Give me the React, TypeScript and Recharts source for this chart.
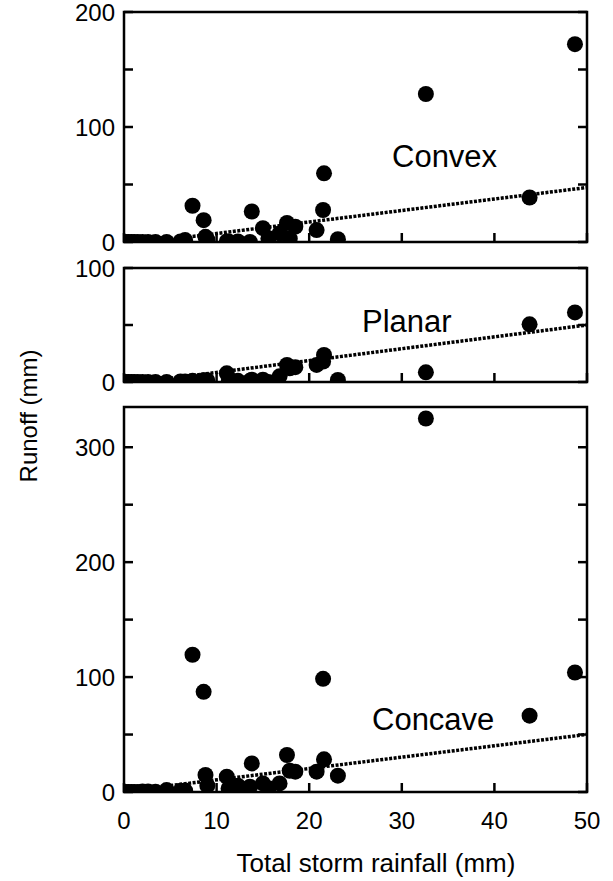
import { ComposedChart, Scatter, Line, XAxis, YAxis, ReferenceArea } from 'recharts';

// storm rainfall (mm), shared by the three hillslope plots
const rainfall = [
  0.2, 0.5, 0.8, 1.1, 1.5, 2.0, 2.6, 3.4, 4.6, 6.1, 6.6, 7.4, 8.6, 8.8, 9.0, 11.1, 11.3,
  12.3, 13.6, 13.8, 15.0, 15.6, 16.8, 17.6, 17.9, 18.5, 20.8, 21.5, 21.6, 23.1, 32.6, 43.8, 48.7,
];

// runoff (mm) per storm
const convexRunoff = [
  0, 0, 0, 0, 0, 0, 0, 0, 0, 0.5, 1.7, 31.5, 19, 4.5, 2, 0.5, 0.5,
  0.5, 0, 26.5, 12, 3.2, 7.5, 16.5, 3, 13.3, 10.4, 27.8, 59.7, 2.5, 128.7, 38.7, 172,
];
const planarRunoff = [
  0, 0, 0, 0, 0, 0, 0, 0, 0, 0.5, 0.5, 1, 1.5, 1, 1.5, 7.6, 0,
  1, 1, 2, 2, 0, 5, 14.9, 12, 13, 15, 18, 23.7, 1.8, 8.5, 50.6, 61,
];
const concaveRunoff = [
  0, 0, 0, 0, 0, 0.5, 0.5, 0.3, 1.7, 1, 1.2, 119.4, 87.2, 14.8, 5.5, 13.3, 3.2,
  5.5, 4.6, 24.9, 7.5, 3.2, 7.5, 32.2, 18.5, 17.7, 17.7, 98.5, 28.4, 14.2, 325, 66.4, 104,
];

// fitted trend lines (end points)
const trendRainfall = [5, 50];
const convexTrend = [2.4, 47.4];
const planarTrend = [3.2, 50];
const concaveTrend = [5.6, 50.1];

const rainfallTicks = [0, 10, 20, 30, 40, 50];
const convexTicks = [0, 50, 100, 150, 200];
const planarTicks = [0, 50, 100];
const concaveTicks = [0, 50, 100, 150, 200, 250, 300];

const FONT = '"Liberation Sans", Arial, Helvetica, sans-serif';
const W = 613;
const AXIS_W = 124;
const RIGHT = 26;
const PLOT_W = W - AXIS_W - RIGHT;
const TICK = 9;

const toRows = (xs: number[], ys: number[]) => xs.map((x, i) => ({ x, y: ys[i] }));

function YTick(props: any) {
  const { x, y, payload } = props;
  const v = payload.value as number;
  return (
    <g>
      <line x1={x} x2={x + TICK} y1={y} y2={y} stroke="#000" strokeWidth={2.5} />
      <line x1={x + PLOT_W - TICK} x2={x + PLOT_W} y1={y} y2={y} stroke="#000" strokeWidth={2.5} />
      {v % 100 === 0 && (
        <text x={x - 9} y={y} dy="0.36em" textAnchor="end" fontSize={24} fontFamily={FONT} fill="#000">
          {v}
        </text>
      )}
    </g>
  );
}

function XTick(props: any) {
  const { x, y, payload, showLabel } = props;
  return (
    <g>
      <line x1={x} x2={x} y1={y} y2={y - TICK} stroke="#000" strokeWidth={2.5} />
      {showLabel && (
        <text x={x} y={y + 37} textAnchor="middle" fontSize={24} fontFamily={FONT} fill="#000">
          {payload.value}
        </text>
      )}
    </g>
  );
}

function Panel({
  top,
  height,
  marginTop,
  xAxisHeight,
  yMax,
  yTicks,
  runoff,
  trend,
  showX,
}: {
  top: number;
  height: number;
  marginTop: number;
  xAxisHeight: number;
  yMax: number;
  yTicks: number[];
  runoff: number[];
  trend: number[];
  showX: boolean;
}) {
  return (
    <div style={{ position: 'absolute', left: 0, top }}>
      <ComposedChart
        width={W}
        height={height}
        margin={{ top: marginTop, right: RIGHT, bottom: 0, left: 0 }}
      >
        <XAxis
          type="number"
          dataKey="x"
          domain={[0, 50]}
          ticks={rainfallTicks}
          interval={0}
          allowDataOverflow
          height={xAxisHeight}
          axisLine={false}
          tickLine={false}
          tickSize={0}
          tickMargin={0}
          tick={(p: any) => <XTick {...p} showLabel={showX} />}
        />
        <YAxis
          type="number"
          dataKey="y"
          domain={[0, yMax]}
          ticks={yTicks}
          interval={0}
          allowDataOverflow
          width={AXIS_W}
          axisLine={false}
          tickLine={false}
          tickSize={0}
          tickMargin={0}
          tick={(p: any) => <YTick {...p} />}
        />
        <ReferenceArea
          x1={0}
          x2={50}
          y1={0}
          y2={yMax}
          fill="none"
          stroke="#000"
          strokeWidth={2.5}
          ifOverflow="visible"
        />
        <Line
          data={toRows(trendRainfall, trend)}
          dataKey="y"
          type="linear"
          stroke="#000"
          strokeWidth={3.5}
          strokeDasharray="3 1.5"
          dot={false}
          activeDot={false}
          isAnimationActive={false}
        />
        <Scatter
          data={toRows(rainfall, runoff)}
          dataKey="y"
          fill="#000"
          shape={(p: any) => <circle cx={p.cx} cy={p.cy} r={8} fill="#000" />}
          isAnimationActive={false}
        />
      </ComposedChart>
    </div>
  );
}

export default function App() {
  return (
    <div
      style={{
        position: 'absolute',
        left: 0,
        top: 0,
        width: W,
        height: 881,
        background: '#fff',
        fontFamily: FONT,
        overflow: 'hidden',
      }}
    >
      <Panel top={0} height={262} marginTop={12} xAxisHeight={20} yMax={200} yTicks={convexTicks} runoff={convexRunoff} trend={convexTrend} showX={false} />
      <Panel top={255} height={147} marginTop={13} xAxisHeight={20} yMax={100} yTicks={planarTicks} runoff={planarRunoff} trend={planarTrend} showX={false} />
      <Panel top={395} height={486} marginTop={12} xAxisHeight={89} yMax={335} yTicks={concaveTicks} runoff={concaveRunoff} trend={concaveTrend} showX />
      <svg
        width={W}
        height={881}
        style={{ position: 'absolute', left: 0, top: 0, pointerEvents: 'none' }}
      >
        <g fontFamily={FONT} fill="#000">
          <text x={392} y={167} fontSize={31}>Convex</text>
          <text x={362} y={332} fontSize={31}>Planar</text>
          <text x={372} y={730} fontSize={31}>Concave</text>
          <text transform="translate(37,416) rotate(-90)" textAnchor="middle" fontSize={24}>
            Runoff (mm)
          </text>
          <text x={376} y={872} textAnchor="middle" fontSize={26}>
            Total storm rainfall (mm)
          </text>
        </g>
      </svg>
    </div>
  );
}
